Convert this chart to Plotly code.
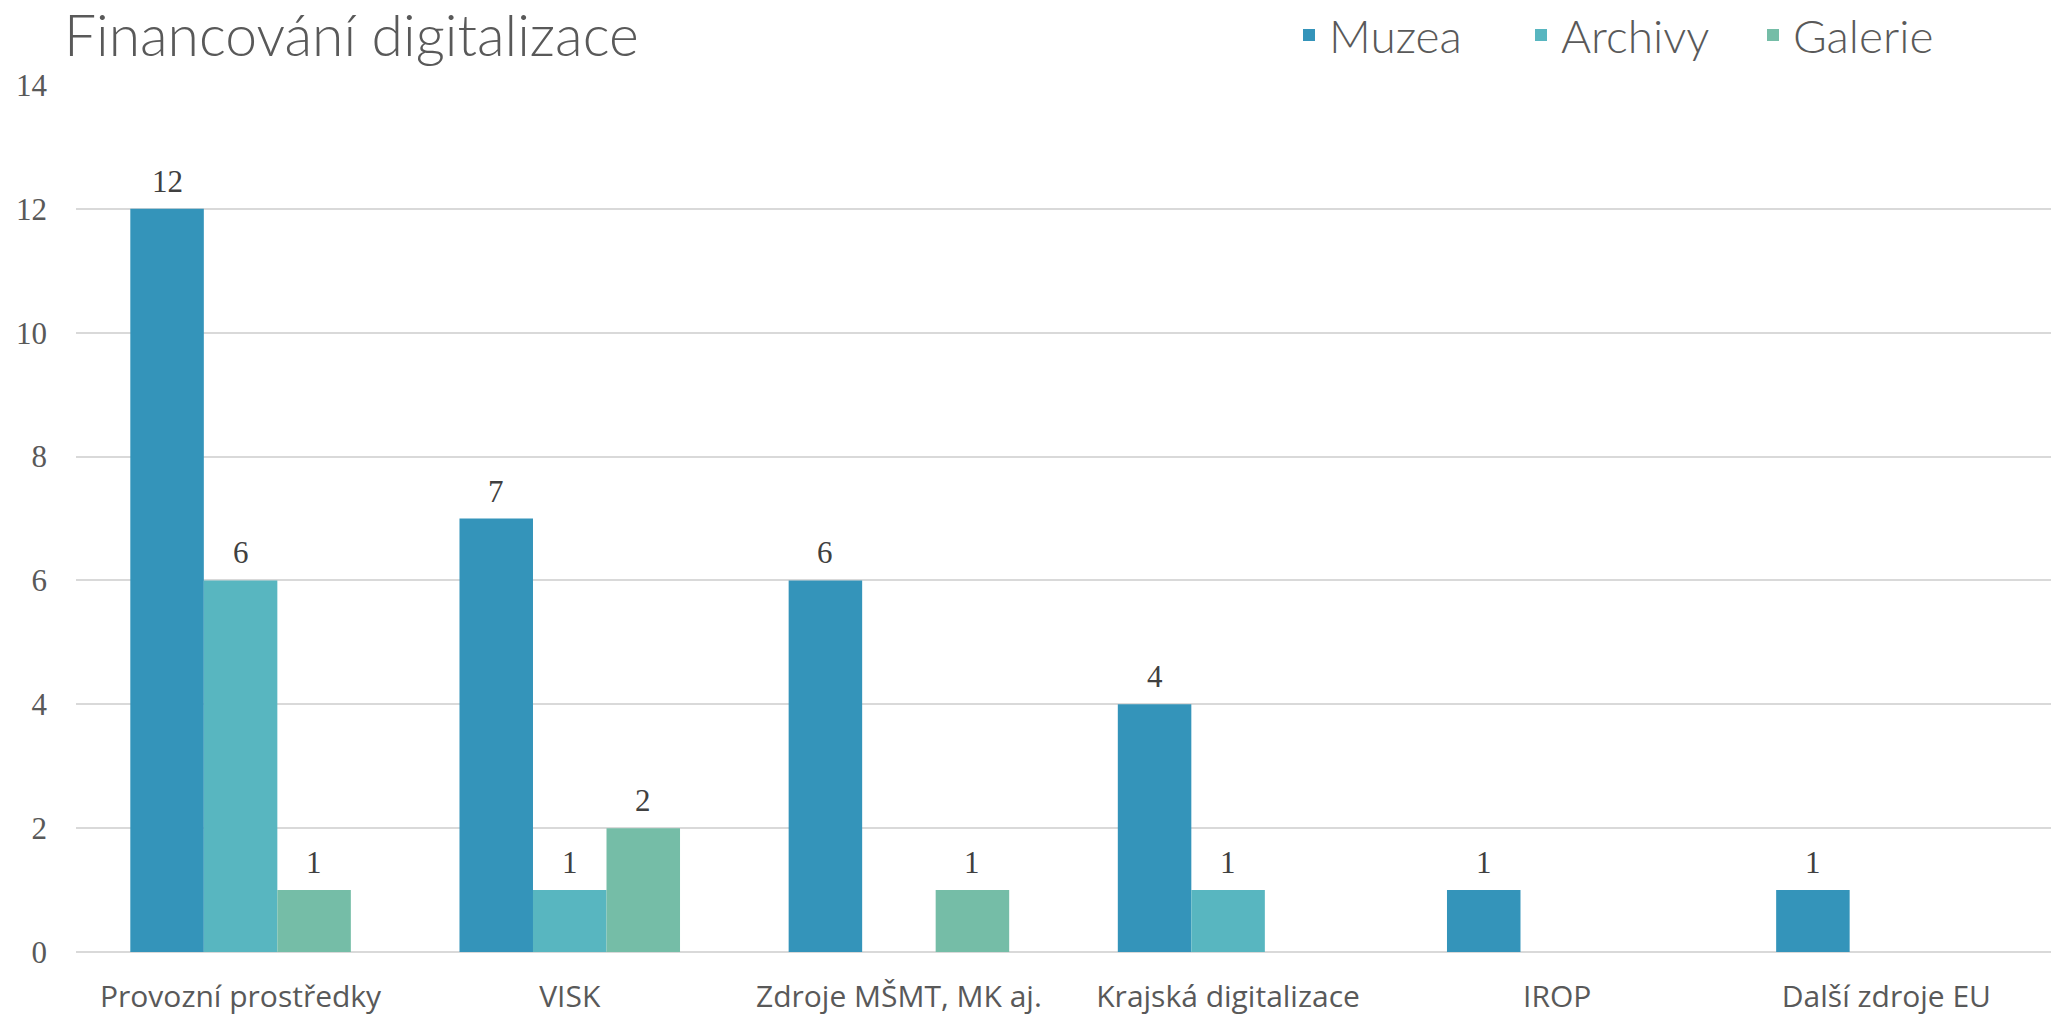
import plotly.graph_objects as go

categories = ["Provozní prostředky", "VISK", "Zdroje MŠMT, MK aj.",
              "Krajská digitalizace", "IROP", "Další zdroje EU"]
muzea = [12, 7, 6, 4, 1, 1]
archivy = [6, 1, None, 1, None, None]
galerie = [1, 2, 1, None, None, None]
series_names = ["Muzea", "Archivy", "Galerie"]
colors = ["#3494BA", "#58B6C0", "#75BDA7"]
y_ticks = [0, 2, 4, 6, 8, 10, 12, 14]

W, H = 2062, 1015
ML, MR, MT, MB = 76, 11, 85, 63
BARGAP = 0.33
label_font = dict(family="Liberation Serif, DejaVu Serif, serif", size=31, color="#404040")

fig = go.Figure()
series = [muzea, archivy, galerie]
for name, vals, col in zip(series_names, series, colors):
    fig.add_trace(go.Bar(
        name=name, x=categories, y=vals,
        marker=dict(color=col, line=dict(width=0)),
        hoverinfo="x+y+name",
    ))

# value labels above the bars
bar_px = (W - ML - MR) / len(categories) * (1 - BARGAP) / len(series)
for i, vals in enumerate(series):
    for cat, v in zip(categories, vals):
        if v is None:
            continue
        fig.add_annotation(
            x=cat, y=v, xref="x", yref="y",
            text=str(v), showarrow=False,
            xshift=(i - (len(series) - 1) / 2) * bar_px,
            yanchor="bottom", yshift=8,
            font=label_font,
        )

fig.update_layout(
    width=W, height=H,
    paper_bgcolor="white", plot_bgcolor="white",
    margin=dict(l=ML, r=MR, t=MT, b=MB, autoexpand=False),
    barmode="group", bargap=BARGAP, bargroupgap=0,
    title=dict(
        text="Financování digitalizace",
        font=dict(family="Lato, Open Sans, sans-serif", size=57, color="#595959", weight=300),
        x=64 / W, xanchor="left", xref="container",
        y=1 - 36 / H, yanchor="middle", yref="container",
        automargin=False,
    ),
    legend=dict(
        orientation="h",
        x=1289 / W, xanchor="left", xref="container",
        y=1 - 35 / H, yanchor="middle", yref="container",
        font=dict(family="Lato, Open Sans, sans-serif", size=46, color="#595959", weight=300),
        bgcolor="rgba(0,0,0,0)",
        itemwidth=30,
        entrywidth=187, entrywidthmode="pixels",
        tracegroupgap=0,
    ),
    xaxis=dict(
        type="category",
        showgrid=False, showline=False, zeroline=False,
        ticks="", automargin=False,
        tickfont=dict(family="Open Sans, Noto Sans, sans-serif", size=30, color="#595959"),
        ticklabelstandoff=24,
    ),
    yaxis=dict(
        range=[0, 14],
        tickvals=y_ticks,
        ticktext=[str(t) for t in y_ticks],
        showgrid=True, gridcolor="#D9D9D9", gridwidth=1.5,
        zeroline=True, zerolinecolor="#D9D9D9", zerolinewidth=2,
        showline=False, ticks="", automargin=False,
        tickfont=dict(family="Liberation Serif, DejaVu Serif, serif", size=31, color="#595959"),
        ticklabelstandoff=28,
    ),
    showlegend=True,
)

fig.write_html(
    "out.html",
    config={"displayModeBar": False},
    post_script="document.body.style.margin='0';document.body.style.padding='0';",
)
